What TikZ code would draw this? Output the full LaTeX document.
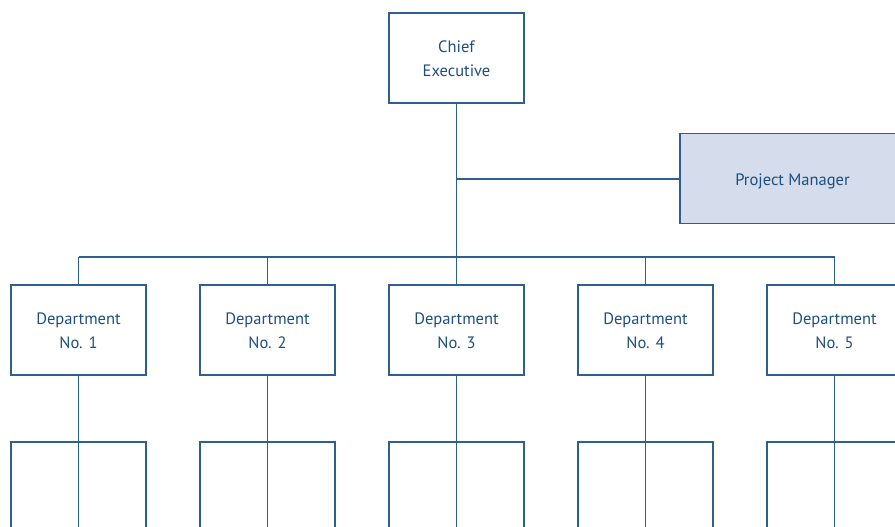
\documentclass[tikz,border=0pt]{standalone}
\usepackage{fontspec}
\setmainfont{PT Sans}
\definecolor{linecol}{HTML}{2F5F8E}
\definecolor{textcol}{HTML}{1B4F80}
\definecolor{pmfill}{HTML}{D5DCEB}
\begin{document}
\begin{tikzpicture}[x=1pt,y=-1pt,
  box/.style={draw=linecol,line width=1.5pt,minimum width=135pt,minimum height=90pt,
    inner sep=0pt,text=textcol,align=center,
    font=\fontsize{16.5}{24}\selectfont},
  conn/.style={draw=linecol,line width=1.5pt}]
\useasboundingbox (0,0) rectangle (895,527);
\clip (0,0) rectangle (895,527);
% top level
\node[box] (ceo) at (456.5,58) {\raisebox{-1pt}[\height][\depth]{Chief}\\\raisebox{-1pt}[\height][\depth]{Executive}};
\node[box,fill=pmfill,minimum width=225pt] (pm) at (792.5,178.5) {\raisebox{-3pt}[\height][\depth]{Project Manager}};
\coordinate (tap) at (456.5,179);
\coordinate (bus) at (456.5,257);
\draw[conn] (ceo.south) -- (bus);
\draw[conn] (tap) -- (tap -| pm.west);
% departments and their sub-units
\foreach \i/\x in {1/78.5,2/267.5,3/456.5,4/645.5,5/834.5}{
  \node[box] (d\i) at (\x,330) {\raisebox{-1pt}[\height][\depth]{Department}\\\raisebox{-1pt}[\height][\depth]{No. \i}};
  \node[box] (s\i) at (\x,487) {};
  \draw[conn] (d\i.north) -- (d\i.north |- bus);
  \draw[conn] (d\i.south) -- ([yshift=-10pt]s\i.south);
}
\draw[conn] (d1.north |- bus) -- (d5.north |- bus);
\end{tikzpicture}
\end{document}
